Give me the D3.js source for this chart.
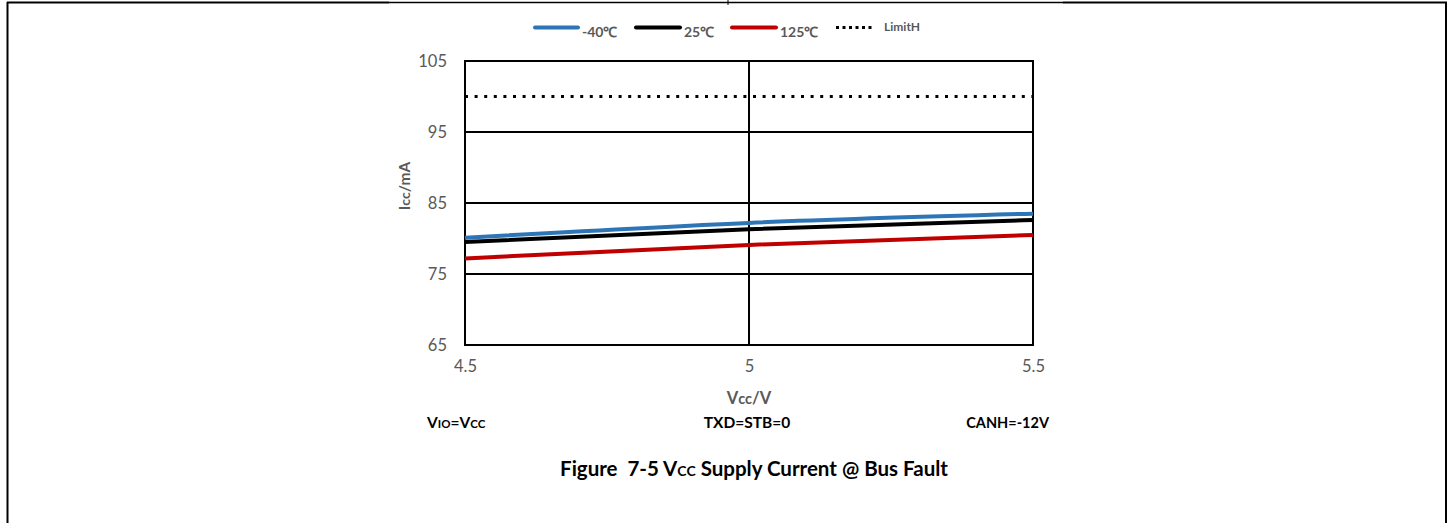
<!DOCTYPE html>
<html><head><meta charset="utf-8">
<script src="https://cdn.jsdelivr.net/npm/d3@7"></script>
<style>body{margin:0;background:#fff}svg{display:block}</style>
</head><body>
<script>
const xValues = [4.5, 5, 5.5];
const seriesNames = ["-40℃", "25℃", "125℃", "LimitH"];
const m40 = [80.1, 82.2, 83.5];
const r25 = [79.5, 81.3, 82.6];
const h125 = [77.2, 79.1, 80.5];
const limitH = [100, 100, 100];
const xTicks = [4.5, 5, 5.5];
const yTicks = [65, 75, 85, 95, 105];

const W = 1453, H = 523;
const svg = d3.select("body").append("svg").attr("width", W).attr("height", H);
const font = "Lato, 'Open Sans', sans-serif";

// outer frame
svg.append("line").attr("x1",7).attr("x2",389).attr("y1",2.5).attr("y2",2.5).attr("stroke","#000").attr("stroke-width",2);
svg.append("line").attr("x1",389).attr("x2",1063).attr("y1",2.5).attr("y2",2.5).attr("stroke","#000").attr("stroke-width",1.3);
svg.append("line").attr("x1",1063).attr("x2",1447).attr("y1",2.5).attr("y2",2.5).attr("stroke","#000").attr("stroke-width",2);
svg.append("line").attr("x1",728).attr("x2",728).attr("y1",0).attr("y2",5).attr("stroke","#000").attr("stroke-width",1);
svg.append("line").attr("x1",7.5).attr("x2",7.5).attr("y1",2).attr("y2",H).attr("stroke","#000").attr("stroke-width",2);
svg.append("line").attr("x1",1446).attr("x2",1446).attr("y1",2).attr("y2",H).attr("stroke","#000").attr("stroke-width",2);

const x = d3.scaleLinear().domain([4.5, 5.5]).range([465, 1033]);
const y = d3.scaleLinear().domain([65, 105]).range([345, 61]);

// grid
const g = svg.append("g");
g.selectAll(".hg").data(yTicks).join("line")
  .attr("x1", x(4.5)-1).attr("x2", x(5.5)+1).attr("y1", d=>y(d)).attr("y2", d=>y(d))
  .attr("stroke","#000").attr("stroke-width",2);
g.selectAll(".vg").data(xTicks).join("line")
  .attr("y1", y(105)).attr("y2", y(65)).attr("x1", d=>x(d)).attr("x2", d=>x(d))
  .attr("stroke","#000").attr("stroke-width",2);

// axes labels via d3 axes
const yAxis = d3.axisLeft(y).tickValues(yTicks).tickSize(0).tickPadding(18);
const ya = svg.append("g").attr("transform",`translate(${x(4.5)},0)`).call(yAxis);
ya.select(".domain").remove();
ya.selectAll("text").attr("font-family",font).attr("font-size",16.5).attr("fill","#595959");

const xAxis = d3.axisBottom(x).tickValues(xTicks).tickFormat(d3.format("")).tickSize(0).tickPadding(15);
const xa = svg.append("g").attr("transform",`translate(0,${y(65)})`).call(xAxis);
xa.select(".domain").remove();
xa.selectAll("text").attr("font-family",font).attr("font-size",16.5).attr("fill","#595959");

// lines
const line = d3.line().x((d,i)=>x(xValues[i])).y(d=>y(d)).curve(d3.curveMonotoneX);
const series = [
  {name: seriesNames[0], data: m40, color:"#2E75B6", w:4},
  {name: seriesNames[1], data: r25, color:"#000000", w:4},
  {name: seriesNames[2], data: h125, color:"#C00000", w:4},
];
svg.append("path").attr("d", line(limitH)).attr("fill","none").attr("stroke","#000")
  .attr("stroke-width",3).attr("stroke-dasharray","3 6.6").attr("stroke-linecap","butt");
series.forEach(s=>{
  svg.append("path").attr("d", line(s.data)).attr("fill","none").attr("stroke",s.color).attr("stroke-width",s.w);
});

// legend
const leg = [
  {x1:535,x2:578,tx:582,color:"#2E75B6",dash:null,text:seriesNames[0],fs:14},
  {x1:636,x2:680,tx:684,color:"#000",dash:null,text:seriesNames[1],fs:14},
  {x1:732,x2:776,tx:780,color:"#C00000",dash:null,text:seriesNames[2],fs:14},
  {x1:836,x2:872,tx:884,color:"#000",dash:"3 3.5",text:seriesNames[3],fs:12},
];
leg.forEach(l=>{
  svg.append("line").attr("x1",l.x1).attr("x2",l.x2).attr("y1",27.5).attr("y2",27.5)
    .attr("stroke",l.color).attr("stroke-width",l.dash?3:4).attr("stroke-dasharray",l.dash)
    .attr("stroke-linecap",l.dash?"butt":"round");
  svg.append("text").attr("x",l.tx).attr("y",l.dash?31:37).text(l.text)
    .attr("font-family",font).attr("font-weight","bold").attr("font-size",l.fs).attr("fill","#595959");
});

// axis titles
const yt = svg.append("text").attr("transform","translate(410,186) rotate(-90)").attr("text-anchor","middle")
  .attr("font-family",font).attr("font-weight","bold").attr("font-size",15.5).attr("fill","#595959");
yt.append("tspan").text("I");
yt.append("tspan").text("cc").attr("font-size",14);
yt.append("tspan").text("/mA");

const xt = svg.append("text").attr("x",749).attr("y",404).attr("text-anchor","middle")
  .attr("font-family",font).attr("font-weight","bold").attr("font-size",16.5).attr("fill","#595959");
xt.append("tspan").text("V");
xt.append("tspan").text("cc").attr("font-size",14.5);
xt.append("tspan").text("/V");

// condition texts
const cfs = 15.5;
const c1 = svg.append("text").attr("x",427).attr("y",428).attr("font-family",font).attr("font-weight","bold").attr("font-size",cfs).attr("fill","#000");
c1.append("tspan").text("V");
c1.append("tspan").text("IO").attr("font-size",11.5);
c1.append("tspan").text("=V");
c1.append("tspan").text("CC").attr("font-size",11.5);
svg.append("text").attr("x",747).attr("y",428).attr("text-anchor","middle").attr("font-family",font).attr("font-weight","bold").attr("font-size",cfs).text("TXD=STB=0");
svg.append("text").attr("x",1049).attr("y",428).attr("text-anchor","end").attr("font-family",font).attr("font-weight","bold").attr("font-size",14.5).text("CANH=-12V");

// caption
const cap = svg.append("text").attr("x",754).attr("y",476).attr("text-anchor","middle").attr("font-family",font).attr("font-weight","bold").attr("font-size",20.5).attr("fill","#000");
cap.append("tspan").text("Figure\u00a0 7-5 V");
cap.append("tspan").text("CC").attr("font-size",14);
cap.append("tspan").text(" Supply Current @ Bus Fault");
</script>
</body></html>
